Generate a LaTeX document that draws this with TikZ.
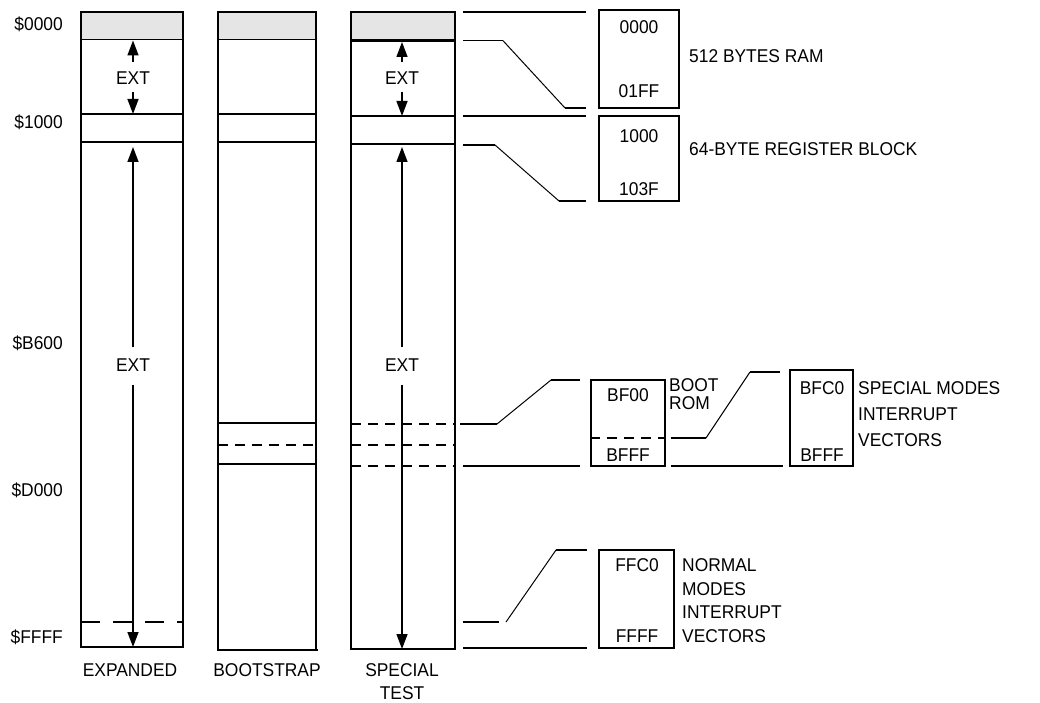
\documentclass[tikz,border=0pt]{standalone}
\usepackage{fontspec}
\setmainfont[FakeStretch=0.94]{Liberation Sans}
\usetikzlibrary{positioning}
\usetikzlibrary{arrows.meta}

\definecolor{romgrey}{gray}{0.9}

\tikzset{
  wall/.style={line width=1.6pt},
  floor/.style={line width=2.4pt},
  slant/.style={line width=1pt},
  dashwall/.style={line width=1.6pt, dash pattern=on 10pt off 7pt},
  bigdash/.style={line width=2.2pt, dash pattern=on 19pt off 13pt},
  ext/.style={line width=1.4pt, -{Triangle[length=15pt,width=11pt]}},
  txt/.style={inner sep=0pt, font=\fontsize{18.5}{18}\selectfont},
  mapbox/.style={draw, line width=1.6pt, inner sep=0pt}
}

\begin{document}
\begin{tikzpicture}[x=1pt,y=-1pt]
\useasboundingbox (0,0) rectangle (1040,703);

% addresses
\node[txt, anchor=east] (a0000) at (63,24) {\$0000};
\node[txt, anchor=east] (a1000) at (63,122) {\$1000};
\node[txt, anchor=east] (ab600) at (63,343) {\$B600};
\node[txt, anchor=east] (ad000) at (63,490) {\$D000};
\node[txt, anchor=east] (affff) at (63,637) {\$FFFF};

% expanded
\fill[romgrey] (81,12) rectangle (183,39.5);
\draw[wall] (81,12) rectangle (183,647);
\draw[wall] (81,39.5) -- (183,39.5);
\draw[wall] (81,114) -- (183,114);
\draw[wall] (81,142) -- (183,142);
\draw[bigdash] (81,622) -- (183,622);
\draw[floor] (80,647) -- (181,647);

\node[txt] (exta) at (133,78) {EXT};
\draw[ext] ([yshift=9pt]exta.north) -- (133,40.5);
\draw[ext] ([yshift=-7pt]exta.south) -- (133,114);
\node[txt] (extb) at (133,365) {EXT};
\draw[ext] ([yshift=11pt]extb.north) -- (133,147);
\draw[ext] ([yshift=-13pt]extb.south) -- (133,647);

% bootstrap
\fill[romgrey] (218,12) rectangle (316,39.5);
\draw[wall] (218,12) rectangle (316,650);
\draw[wall] (218,39.5) -- (316,39.5);
\draw[wall] (218,114) -- (316,114);
\draw[wall] (218,142) -- (316,142);
\draw[wall] (218,423) -- (316,423);
\draw[dashwall] (218,445) -- (316,445);
\draw[wall] (218,464) -- (316,464);
\draw[floor] (217,650) -- (318,650);

% special test
\fill[romgrey] (351,12) rectangle (455,40.7);
\draw[wall] (351,12) rectangle (455,649);
\draw[floor] (351,40.7) -- (455,40.7);
\draw[wall] (351,116) -- (455,116);
\draw[wall] (351,144) -- (455,144);
\draw[dashwall] (351,424) -- (455,424);
\draw[dashwall] (351,445) -- (455,445);
\draw[dashwall] (351,466) -- (455,466);

\node[txt] (extc) at (402,78) {EXT};
\draw[ext] ([yshift=9pt]extc.north) -- (402,42);
\draw[ext] ([yshift=-7pt]extc.south) -- (402,116);
\node[txt] (extd) at (402,365) {EXT};
\draw[ext] ([yshift=11pt]extd.north) -- (402,147);
\draw[ext] ([yshift=-13pt]extd.south) -- (402,649);

% column names
\node[txt] (lexp) at (130,670) {EXPANDED};
\node[txt] (lboot) at (267,670) {BOOTSTRAP};
\node[txt, anchor=north, align=center, font=\fontsize{18.5}{23}\selectfont] (lspec) at (402,663.4) {SPECIAL\\TEST};

% blow-up boxes
\node[mapbox, minimum width=80pt, minimum height=98pt] (ram) at (639,59) {};
\node[mapbox, minimum width=80pt, minimum height=85pt] (reg) at (639,158.5) {};
\node[mapbox, minimum width=74pt, minimum height=86pt] (boot) at (628,423) {};
\node[mapbox, minimum width=63pt, minimum height=96pt] (svec) at (821.5,418) {};
\node[mapbox, minimum width=75pt, minimum height=98pt] (nvec) at (636.5,599) {};
\draw[dashwall] (boot.west |- 0,438) -- (boot.east |- 0,438);

\node[txt] (ramhi) at (639,27) {0000};
\node[txt] (ramlo) at (639,91) {01FF};
\node[txt] (reghi) at (639,136) {1000};
\node[txt] (reglo) at (639,189) {103F};
\node[txt] (boothi) at (628,395) {BF00};
\node[txt] (bootlo) at (628,455) {BFFF};
\node[txt] (svechi) at (822,388) {BFC0};
\node[txt] (sveclo) at (822,455) {BFFF};
\node[txt] (nvechi) at (637,565) {FFC0};
\node[txt] (nveclo) at (637,636) {FFFF};

\node[txt, anchor=west] (ramlbl) at (689,56) {512 BYTES RAM};
\node[txt, anchor=west] (reglbl) at (689,149) {64-BYTE REGISTER BLOCK};
\node[txt, anchor=north west, align=left] (bootlbl) at (669,378.5) {BOOT\\ROM};
\node[txt, anchor=north west, align=left, font=\fontsize{18.5}{26}\selectfont] (sveclbl) at (858,381.5) {SPECIAL MODES\\INTERRUPT\\VECTORS};
\node[txt, anchor=north west, align=left, font=\fontsize{18.5}{23.7}\selectfont] (nveclbl) at (682,558.4) {NORMAL\\MODES\\INTERRUPT\\VECTORS};

% connectors out of special test
\coordinate (c0) at (463,12);
\coordinate (c1) at (463,40.7);
\coordinate (c2) at (463,116);
\coordinate (c3) at (463,145);
\coordinate (c4) at (460,424);
\coordinate (c5) at (463,466);
\coordinate (c6) at (463,622);
\coordinate (c7) at (463,648);

\draw[wall] (c0) -- (586,12);
\draw[wall] (c1) -- (503,40.7);
\draw[slant] (503,40.7) -- (565,108);
\draw[wall] (565,108) -- (586,108);
\draw[wall] (c2) -- (586,116);
\draw[wall] (c3) -- (495,145);
\draw[slant] (495,145) -- (559,201);
\draw[wall] (559,201) -- (586,201);
\draw[wall] (c4) -- (497,424);
\draw[slant] (497,424) -- (551,380);
\draw[wall] (551,380) -- (580,380);
\draw[wall] (c5) -- (580,466);
\draw[wall] (c6) -- (499,622);
\draw[slant] (506,622) -- (556,550);
\draw[wall] (556,550) -- (587,550);
\draw[wall] (c7) -- (587,648);

% boot rom to vectors
\coordinate (b0) at (671,438);
\coordinate (b1) at (671,466);
\draw[wall] (b0) -- (706,438);
\draw[slant] (706,438) -- (750,372);
\draw[wall] (750,372) -- (780,372);
\draw[wall] (b1) -- (783,466);

\end{tikzpicture}
\end{document}
